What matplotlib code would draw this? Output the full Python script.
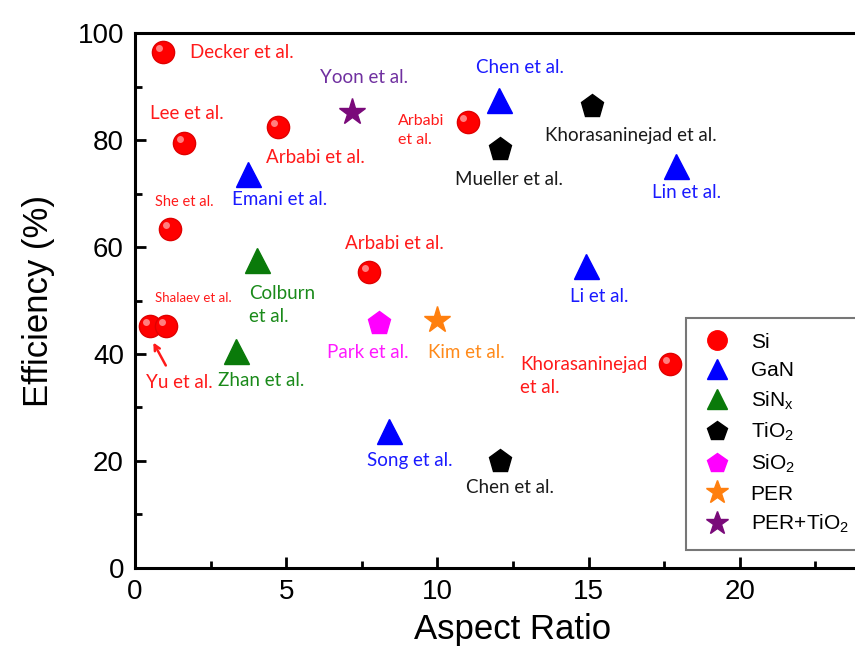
import matplotlib
matplotlib.use('Agg')
import matplotlib.pyplot as plt
from matplotlib.lines import Line2D
from matplotlib import transforms

plt.rcParams['font.family'] = ['Liberation Sans', 'DejaVu Sans']
plt.rcParams['mathtext.default'] = 'regular'

# data: aspect ratio, efficiency (%)
si_x = [0.93, 1.62, 4.73, 1.16, 7.74, 11.0, 0.5, 1.02, 17.7]
si_y = [96.4, 79.4, 82.4, 63.4, 55.3, 83.4, 45.2, 45.2, 38.1]
gan_x = [12.03, 3.74, 17.9, 14.9, 8.4]
gan_y = [87.5, 73.6, 75.1, 56.4, 25.6]
sinx_x = [4.03, 3.34]
sinx_y = [57.6, 40.5]
tio2_x = [15.1, 12.07, 12.07]
tio2_y = [86.3, 78.3, 20.0]
sio2_x = [8.07]
sio2_y = [45.8]
per_x = [10.0]
per_y = [46.3]
pertio2_x = [7.17]
pertio2_y = [85.3]

groups = ['Si', 'GaN', 'SiN$_{x}$', 'TiO$_{2}$', 'SiO$_{2}$', 'PER', 'PER+TiO$_{2}$']

# reference labels
ref_text = ['Decker et al.', 'Lee et al.', 'Arbabi et al.', 'She et al.', 'Emani et al.',
            'Shalaev et al.', 'Colburn\net al.', 'Yu et al.', 'Zhan et al.', 'Yoon et al.',
            'Chen et al.', 'Arbabi\net al.', 'Khorasaninejad et al.', 'Mueller et al.',
            'Lin et al.', 'Arbabi et al.', 'Li et al.', 'Park et al.', 'Kim et al.',
            'Khorasaninejad\net al.', 'Song et al.', 'Chen et al.']
ref_color = ['#ff1a1a', '#ff1a1a', '#ff1a1a', '#ff1a1a', '#1a1aff',
             '#ff1a1a', '#1a8a1a', '#ff1a1a', '#1a8a1a', '#7030a0',
             '#1a1aff', '#ff1a1a', '#1a1a1a', '#1a1a1a',
             '#1a1aff', '#ff1a1a', '#1a1aff', '#ff1aff', '#ff8a1a',
             '#ff1a1a', '#1a1aff', '#1a1a1a']

# label layout (data coords, size)
ref_pos = [(1.82, 96.4), (0.5, 84.9), (4.33, 76.8), (0.66, 68.4), (3.2, 68.8),
           (0.66, 50.5), (3.77, 49.2), (0.36, 34.6), (2.74, 35.1), (6.12, 91.6),
           (11.27, 93.5), (8.69, 81.7), (13.55, 80.9), (10.58, 72.7),
           (17.09, 70.1), (6.94, 60.6), (14.38, 50.8), (6.35, 40.2), (9.69, 40.2),
           (12.73, 35.9), (7.67, 20.0), (10.94, 15.0)]
ref_size = [13.5, 13.5, 13.5, 10.5, 13.5, 9.5, 13.5, 13.5, 13.5, 13.5,
            13.5, 11.5, 13.5, 13.5, 13.5, 13.5, 13.5, 13.5, 13.5, 13.5, 13.5, 13.5]

fig = plt.figure(figsize=(8.55, 6.58), dpi=100)
ax = fig.add_axes([0.158, 0.1368, 0.884, 0.813])

ax.plot(si_x, si_y, 'o', color='#ff0000', mec='#e00000', ms=16, zorder=3)
hl = transforms.offset_copy(ax.transData, fig=fig, x=-3, y=3, units='points')
ax.plot(si_x, si_y, 'o', color='white', alpha=0.5, mec='none', ms=5,
        transform=hl, zorder=4)
ax.plot(gan_x, gan_y, '^', color='#0000ff', ms=18, zorder=3)
ax.plot(sinx_x, sinx_y, '^', color='#0a7a0a', ms=18, zorder=3)
ax.plot(tio2_x, tio2_y, 'p', color='black', ms=17, zorder=3)
ax.plot(sio2_x, sio2_y, 'p', color='#ff00ff', ms=17, zorder=3)
ax.plot(per_x, per_y, '*', color='#ff7f0e', ms=20, zorder=3)
ax.plot(pertio2_x, pertio2_y, '*', color='#7a0a7a', ms=20, zorder=3)

for t, c, p, s in zip(ref_text, ref_color, ref_pos, ref_size):
    ax.text(p[0], p[1], t, color=c, fontsize=s, family=['Lato', 'DejaVu Sans'],
            ha='left', va='center', linespacing=1.45)

ax.annotate('', xy=(0.56, 42.6), xytext=(1.06, 37.4),
            arrowprops=dict(arrowstyle='->', color='#ff1a1a', lw=1.8))

ax.set_xlim(0, 25)
ax.set_ylim(0, 100)
ax.set_xticks([0, 5, 10, 15, 20])
ax.set_xticks([2.5, 7.5, 12.5, 17.5, 22.5], minor=True)
ax.set_yticks([0, 20, 40, 60, 80, 100])
ax.set_yticks([10, 30, 50, 70, 90], minor=True)
ax.tick_params(which='major', direction='in', length=8, width=2, labelsize=20, pad=8)
ax.tick_params(which='minor', direction='in', length=5, width=2)
for sp in ax.spines.values():
    sp.set_linewidth(2.2)
ax.set_xlabel('Aspect Ratio', fontsize=25, labelpad=6)
ax.set_ylabel('Efficiency (%)', fontsize=25, labelpad=16)

handles = [
    Line2D([], [], ls='none', marker='o', color='#ff0000', ms=14),
    Line2D([], [], ls='none', marker='^', color='#0000ff', ms=15),
    Line2D([], [], ls='none', marker='^', color='#0a7a0a', ms=15),
    Line2D([], [], ls='none', marker='p', color='black', ms=15),
    Line2D([], [], ls='none', marker='p', color='#ff00ff', ms=15),
    Line2D([], [], ls='none', marker='*', color='#ff7f0e', ms=17),
    Line2D([], [], ls='none', marker='*', color='#7a0a7a', ms=17),
]
leg = ax.legend(handles, groups, loc='upper left', bbox_to_anchor=(0.729, 0.467),
                borderaxespad=0, fontsize=15, frameon=True, fancybox=False,
                edgecolor='#555555', labelspacing=0.45, handletextpad=0.8,
                borderpad=0.7, handlelength=1.6)
leg.get_frame().set_linewidth(1.5)

fig.savefig('out.png', dpi=100)
